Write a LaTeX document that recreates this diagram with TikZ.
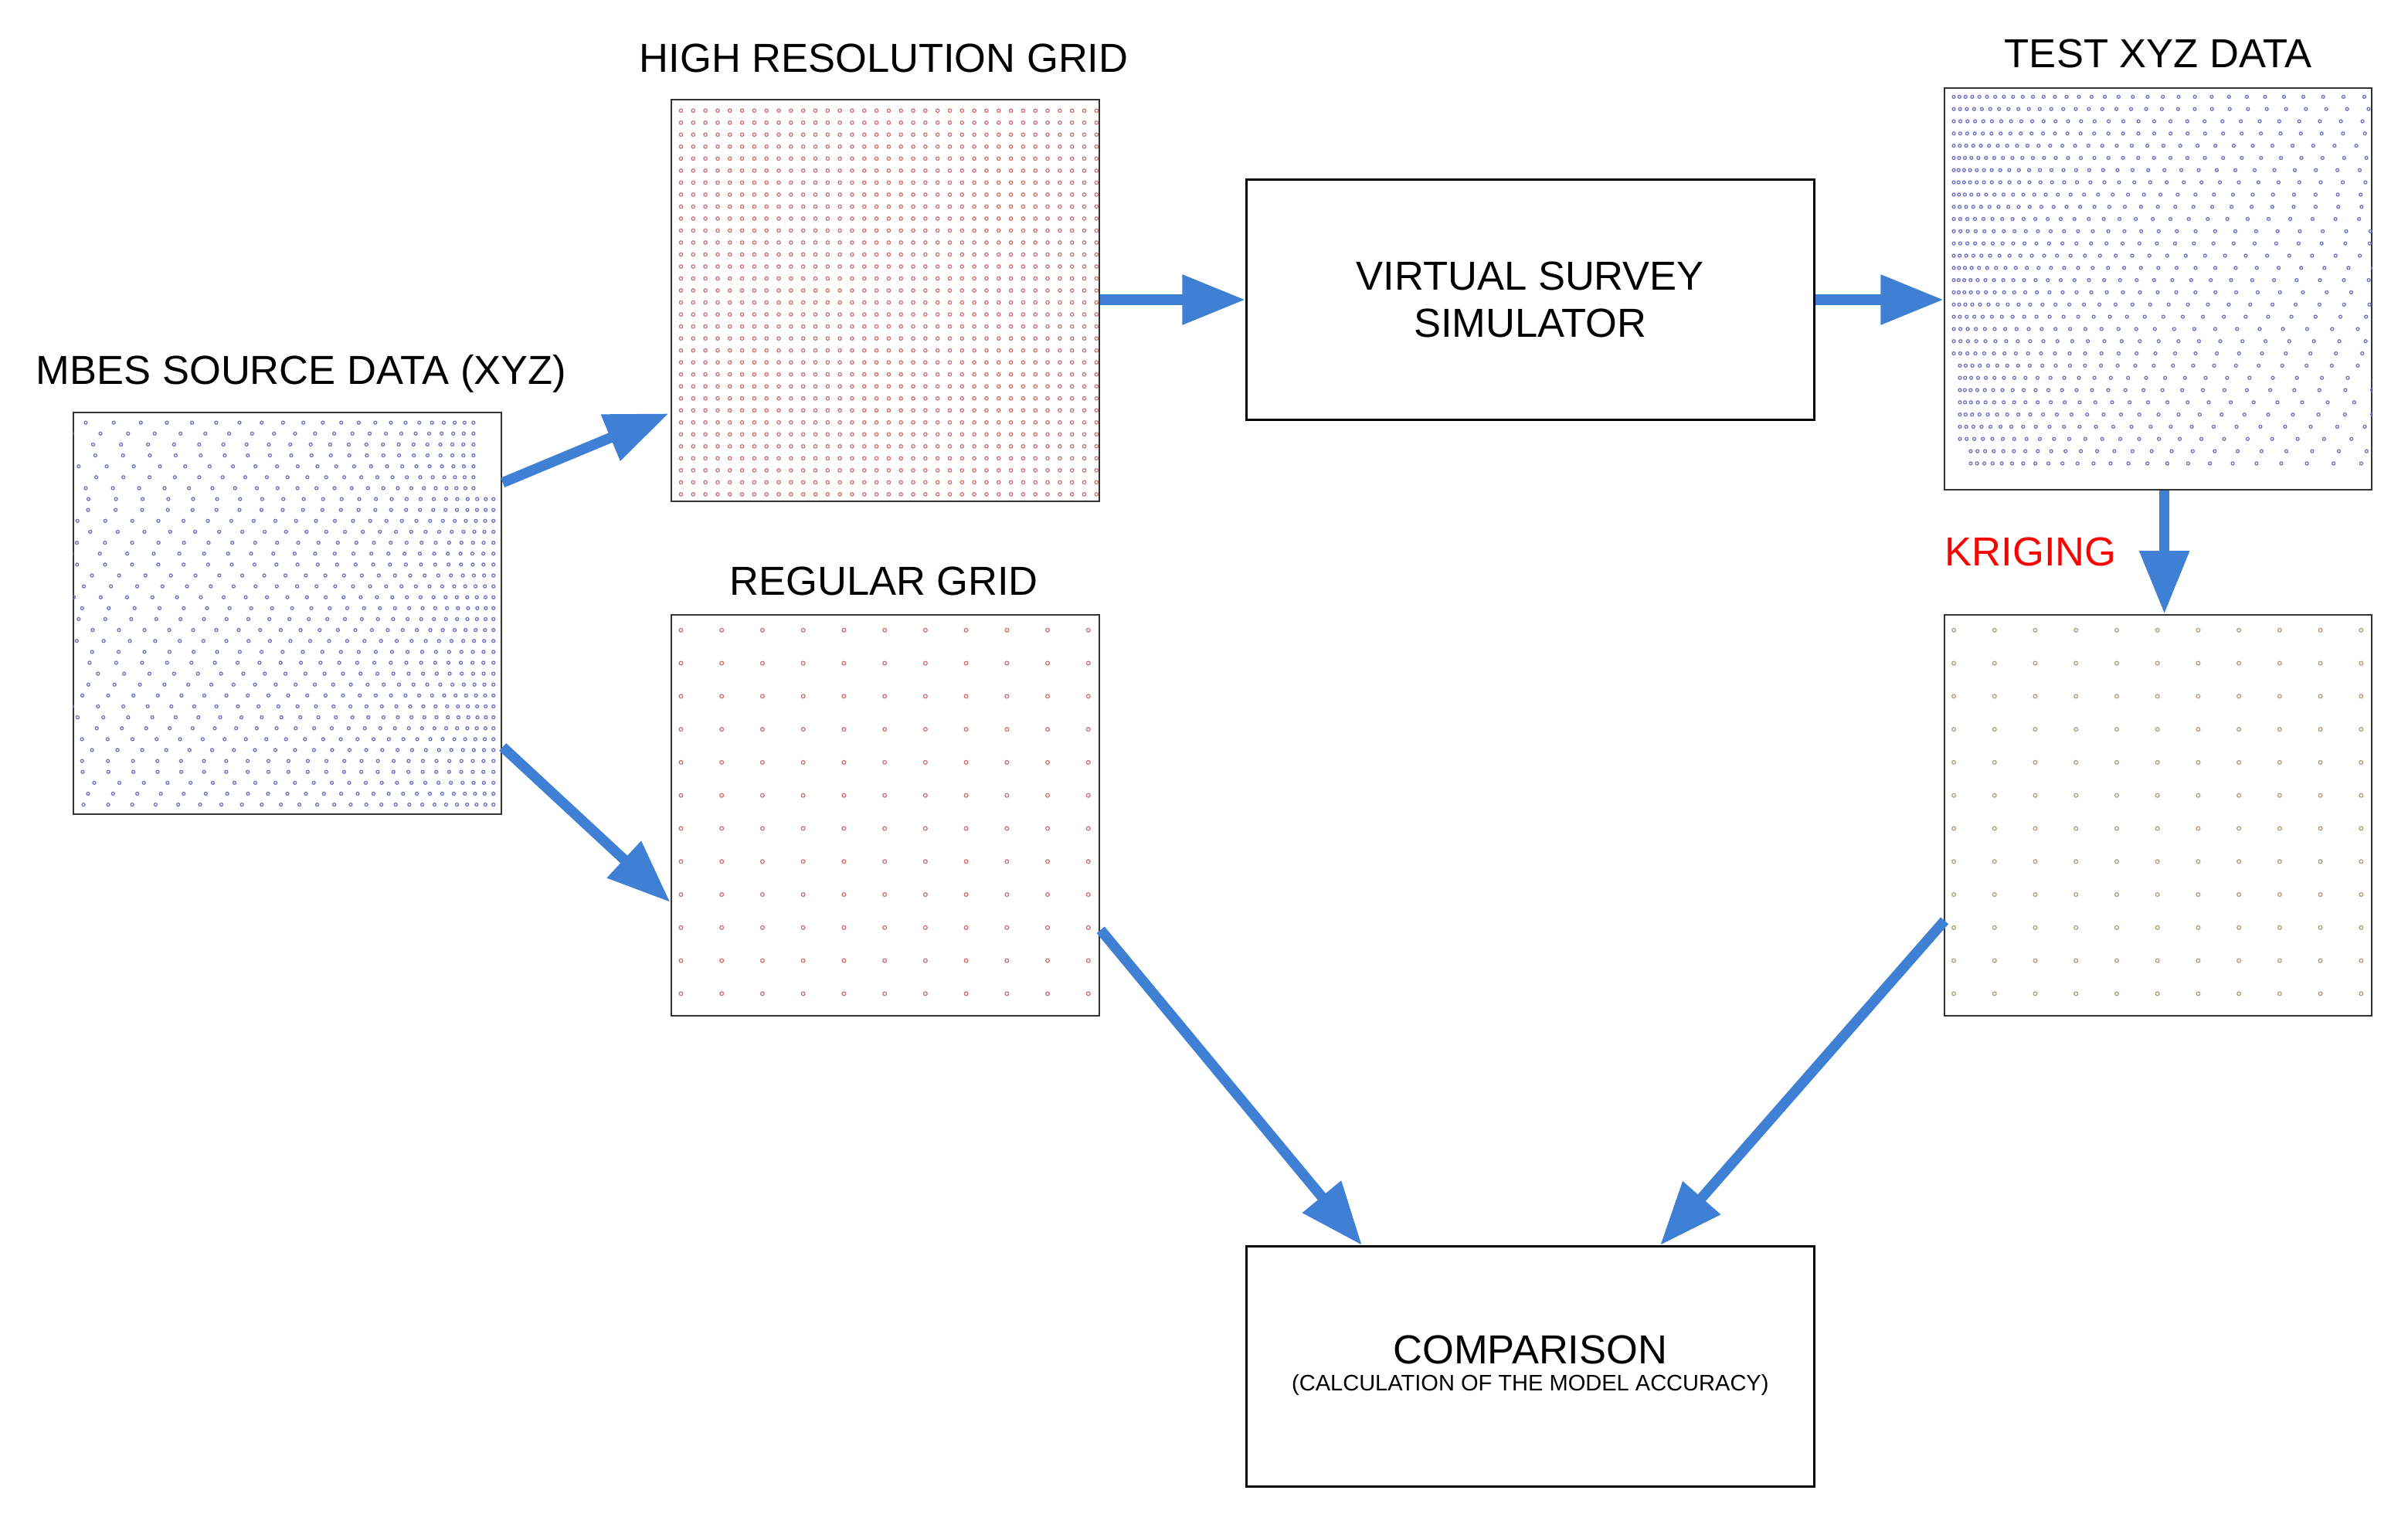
\documentclass[tikz,border=0pt]{standalone}
\usepackage{fontspec}
\setmainfont{Liberation Sans}
\usetikzlibrary{arrows.meta}

\definecolor{flowblue}{HTML}{3F7FD4}
\definecolor{cloudblue}{HTML}{6E6EC4}
\definecolor{gridred}{HTML}{D07070}
\definecolor{krigtan}{HTML}{B49A78}

\tikzset{
  panel/.style={draw=black!80, line width=0.6pt, minimum width=5.56cm, minimum height=5.22cm, inner sep=0pt},
  stepbox/.style={draw=black, line width=0.9pt, minimum width=7.38cm, minimum height=3.12cm, align=center, inner sep=0pt},
  title/.style={font=\fontsize{15}{17}\selectfont},
  flow/.style={draw=flowblue, line width=3.8pt, -{Triangle[length=0.82cm, width=0.62cm]}},
  pt/.style={line width=0.35pt}
}

\begin{document}
\begin{tikzpicture}[x=0.01cm, y=-0.01cm]
  \useasboundingbox (0,0) rectangle (3133,1970);

  % panels and boxes
  \node[panel] (mbes) at (374,798) {};
  \node[panel] (hires) at (1152,391) {};
  \node[panel] (reg) at (1152,1061) {};
  \node[panel] (test) at (2808,376) {};
  \node[panel] (krig) at (2808,1061) {};
  \node[stepbox, font=\fontsize{15}{17.5}\selectfont] (vss) at (1991,390) {VIRTUAL SURVEY\\SIMULATOR};
  \node[stepbox] (comp) at (1991,1778) {};
  \node (compt) at (1991,1756) {\fontsize{15}{17}\selectfont COMPARISON};
  \node (comps) at (1991,1802) {\fontsize{8.3}{9}\selectfont (CALCULATION OF THE MODEL ACCURACY)};

  % labels
  \node[title] (mbesl) at (392,486) {MBES SOURCE DATA (XYZ)};
  \node[title] (hiresl) at (1150,76) {HIGH RESOLUTION GRID};
  \node[title] (regl) at (1150,756) {REGULAR GRID};
  \node[title] (testl) at (2808,70) {TEST XYZ DATA};
  \node[title, text=red, anchor=west, inner sep=0pt] (krigl) at (2530,718) {KRIGING};

  % high resolution grid
  \foreach \i in {0,...,34}
    \foreach \j in {0,...,32}
      \draw[pt, gridred] ({886+15.9*\i},{144+15.6*\j}) circle (2.2);
  % regular grid
  \foreach \i in {0,...,10}
    \foreach \j in {0,...,11} {
      \draw[pt, gridred] ({886+53*\i},{820+43*\j}) circle (2.4);
      \draw[pt, krigtan] ({2542+53*\i},{820+43*\j}) circle (2.4);
    }

  % source cloud
  \begin{scope}
    \clip (mbes.north west) rectangle (mbes.south east);
    \foreach \j in {0,...,35} {
      \pgfmathsetmacro{\a}{0.62-0.17*\j/35}
      \pgfmathsetmacro{\b}{11+1.6*sin(\j*37)}
      \pgfmathsetmacro{\r}{\j<7 ? 616 : 642}
      \foreach \k in {0,...,26}
        \draw[pt, cloudblue] ({\r-\b*\k-\a*\k*\k},{550+14.2*\j}) circle (2);
    }
  \end{scope}

  % test cloud
  \begin{scope}
    \clip (test.north west) rectangle (test.south east);
    \foreach \j in {0,...,30} {
      \pgfmathsetmacro{\a}{0.33+0.3*\j/30}
      \pgfmathsetmacro{\b}{7+1.2*sin(\j*41)}
      \pgfmathsetmacro{\s}{\j>28 ? 22 : (\j>21 ? 8 : 0)}
      \foreach \k in {0,...,32}
        \draw[pt, cloudblue] ({2542+\s+\b*\k+\a*\k*\k},{126+15.9*\j}) circle (2);
    }
  \end{scope}

  % flow
  \coordinate (m1) at (654,628);
  \coordinate (h1) at (870,538);
  \coordinate (m2) at (654,972);
  \coordinate (r1) at (872,1174);
  \coordinate (r2) at (1432,1210);
  \coordinate (k2) at (2530,1198);
  \draw[flow] (m1) -- (h1);
  \draw[flow] (m2) -- (r1);
  \draw[flow] (hires.east |- vss.west) -- (vss.west);
  \draw[flow] (vss.east) -- (test.west |- vss.east);
  \draw[flow] (test.south -| 2816,0) -- (krig.north -| 2816,0);
  \draw[flow] (r2) -- (comp.north -| 1772,0);
  \draw[flow] (k2) -- (comp.north -| 2160,0);
\end{tikzpicture}
\end{document}
